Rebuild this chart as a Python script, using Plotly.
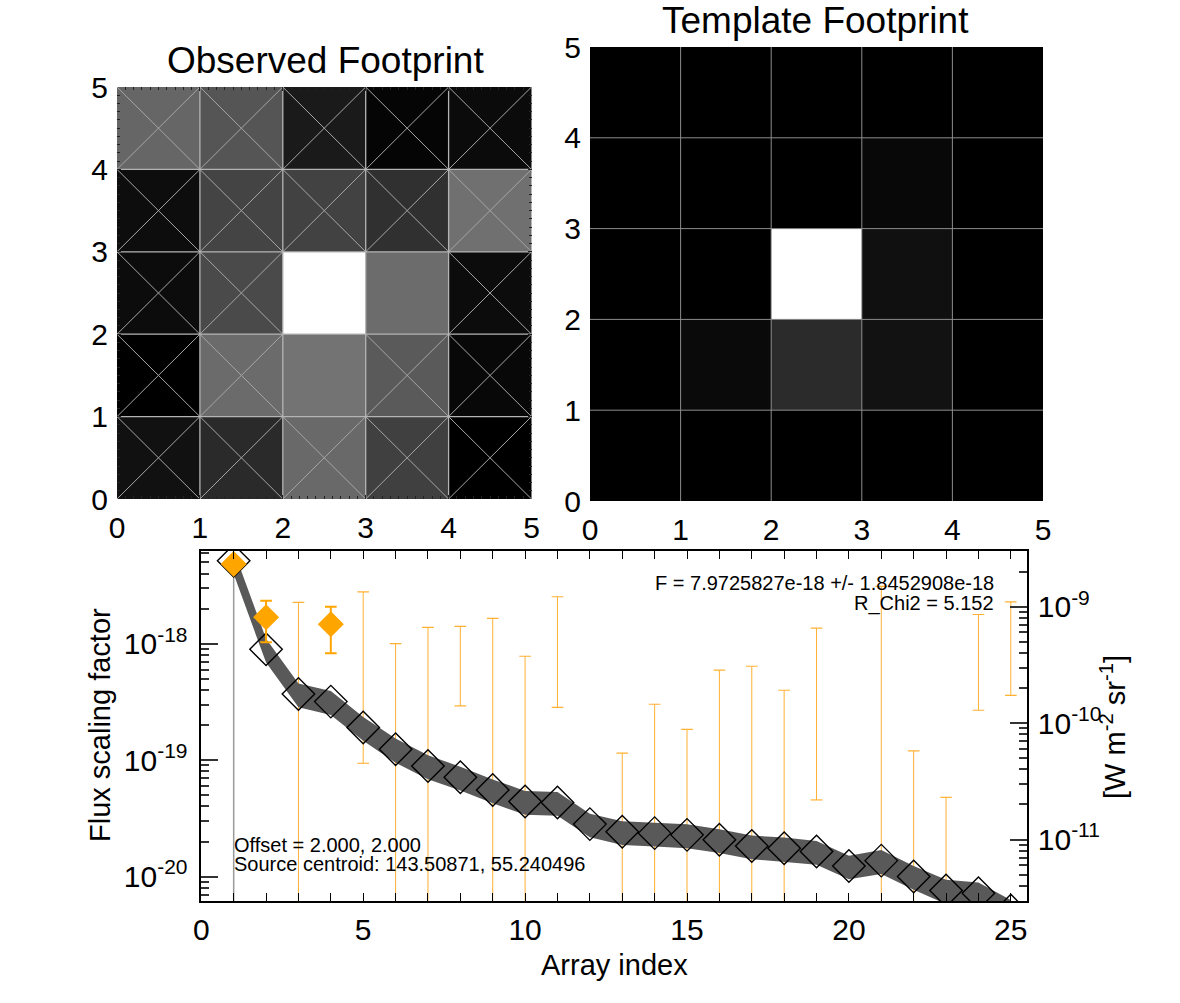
import plotly.graph_objects as go

# ---------------- data ----------------
# Observed footprint, grey levels (0-255); rows are y = 0..4 (bottom to top), columns x = 0..4
observed_rows = [
    [17, 42, 105, 64, 0],
    [0, 107, 115, 90, 8],
    [12, 74, 255, 108, 12],
    [13, 68, 66, 48, 112],
    [102, 85, 26, 5, 11],
]
# Cells of the observed footprint that are NOT crossed out (column, row)
used_cells = [(2, 2), (3, 2), (2, 1)]

# Template footprint, grey levels
template_rows = [
    [0, 0, 0, 0, 0],
    [0, 10, 43, 18, 0],
    [0, 0, 255, 16, 0],
    [0, 0, 0, 8, 0],
    [0, 0, 0, 0, 0],
]

array_index = list(range(1, 26))
model_flux = [5.15e-18, 8.95e-19, 3.70e-19, 3.18e-19, 1.91e-19, 1.24e-19, 8.9e-20, 7.13e-20,
              5.55e-20, 4.41e-20, 4.32e-20, 2.82e-20, 2.43e-20, 2.36e-20, 2.28e-20, 2.07e-20,
              1.83e-20, 1.75e-20, 1.64e-20, 1.23e-20, 1.37e-20, 1.0e-20, 7.6e-21, 7.2e-21, 5.1e-21]
band_high = [6.34e-18, 1.10e-18, 4.56e-19, 3.92e-19, 2.35e-19, 1.53e-19, 1.10e-19, 8.78e-20,
             6.83e-20, 5.43e-20, 5.32e-20, 3.47e-20, 2.99e-20, 2.91e-20, 2.81e-20, 2.55e-20,
             2.25e-20, 2.16e-20, 2.02e-20, 1.51e-20, 1.69e-20, 1.23e-20, 9.4e-21, 8.9e-21, 6.3e-21]
band_low = [3.96e-18, 6.88e-19, 2.84e-19, 2.44e-19, 1.47e-19, 9.5e-20, 6.84e-20, 5.48e-20,
            4.27e-20, 3.39e-20, 3.32e-20, 2.17e-20, 1.87e-20, 1.81e-20, 1.75e-20, 1.59e-20,
            1.41e-20, 1.34e-20, 1.26e-20, 9.5e-21, 1.05e-20, 7.7e-21, 5.8e-21, 5.5e-21, 3.9e-21]

# Measured (used) pixels
meas_index = [1, 2, 4]
meas_flux = [4.83e-18, 1.69e-18, 1.47e-18]
meas_err_high = [None, 2.34e-18, 2.08e-18]
meas_err_low = [None, 1.03e-18, 8.28e-19]

# Error bars of the other pixels (None low = lower bound <= 0, off scale)
err_index = [3, 5, 6, 7, 8, 9, 10, 11, 13, 14, 15, 16, 17, 18, 19, 21, 22, 23, 24, 25]
err_high = [2.26e-18, 2.79e-18, 1.0e-18, 1.38e-18, 1.41e-18, 1.65e-18, 7.8e-19, 2.53e-18,
            1.15e-19, 3.02e-19, 1.84e-19, 5.92e-19, 6.4e-19, 3.98e-19, 1.36e-18, 3.1e-18,
            1.2e-19, 4.79e-20, 1.78e-18, 2.29e-18]
err_low = [None, 9.4e-20, None, None, 2.92e-19, None, None, 2.84e-19,
           None, None, None, None, None, None, 4.55e-20, None,
           None, None, 2.68e-19, 3.6e-19]

x_ticks = [0, 5, 10, 15, 20, 25]
foot_ticks = [0, 1, 2, 3, 4, 5]
left_tickvals = [1e-20, 1e-19, 1e-18]
left_ticktext = ["10<sup>-20</sup>", "10<sup>-19</sup>", "10<sup>-18</sup>"]
right_tickvals = [1e-11, 1e-10, 1e-9]
right_ticktext = ["10<sup>-11</sup>", "10<sup>-10</sup>", "10<sup>-9</sup>"]

F_text = "F = 7.9725827e-18 +/- 1.8452908e-18"
chi_text = "R_Chi2 = 5.152"
offset_text = "Offset = 2.000, 2.000"
centroid_text = "Source centroid: 143.50871, 55.240496"

# ---------------- figure ----------------
FONT = "Liberation Sans, Arial, Helvetica, sans-serif"
W, H = 1180, 1003
FLOOR = 1e-23
gray_scale = [[0, "rgb(0,0,0)"], [1, "rgb(255,255,255)"]]
centers = [i + 0.5 for i in range(5)]

fig = go.Figure()

fig.add_trace(go.Heatmap(z=observed_rows, x=centers, y=centers, colorscale=gray_scale,
                         zmin=0, zmax=255, showscale=False, xaxis="x", yaxis="y",
                         hoverinfo="skip"))
fig.add_trace(go.Heatmap(z=template_rows, x=centers, y=centers, colorscale=gray_scale,
                         zmin=0, zmax=255, showscale=False, xaxis="x2", yaxis="y2",
                         hoverinfo="skip"))


def grid_xy(n):
    gx, gy = [], []
    for k in range(1, n):
        gx += [k, k, None]
        gy += [0, n, None]
        gx += [0, n, None]
        gy += [k, k, None]
    return gx, gy


# crosses on unused observed cells
cx, cy = [], []
for r in range(5):
    for c in range(5):
        if (c, r) in used_cells:
            continue
        cx += [c, c + 1, None, c, c + 1, None]
        cy += [r, r + 1, None, r + 1, r, None]
fig.add_trace(go.Scatter(x=cx, y=cy, mode="lines", line=dict(color="#a6a6a6", width=1),
                         xaxis="x", yaxis="y", hoverinfo="skip", showlegend=False))
gx, gy = grid_xy(5)
fig.add_trace(go.Scatter(x=gx, y=gy, mode="lines", line=dict(color="#b4b4b4", width=1.3),
                         xaxis="x", yaxis="y", hoverinfo="skip", showlegend=False))
fig.add_trace(go.Scatter(x=gx, y=gy, mode="lines", line=dict(color="#8c8c8c", width=1),
                         xaxis="x2", yaxis="y2", hoverinfo="skip", showlegend=False))

# ---- bottom panel ----
CAP = 0.18
ex, ey, capx, capy = [], [], [], []
for i, hi, lo in zip(err_index, err_high, err_low):
    ex += [i, i, None]
    ey += [hi, lo if lo is not None else FLOOR, None]
    capx += [i - CAP, i + CAP, None]
    capy += [hi, hi, None]
    if lo is not None:
        capx += [i - CAP, i + CAP, None]
        capy += [lo, lo, None]
fig.add_trace(go.Scatter(x=ex, y=ey, mode="lines", line=dict(color="#ffb133", width=1),
                         xaxis="x3", yaxis="y3", hoverinfo="skip", showlegend=False))
fig.add_trace(go.Scatter(x=capx, y=capy, mode="lines", line=dict(color="#ffb133", width=1.2),
                         xaxis="x3", yaxis="y3", hoverinfo="skip", showlegend=False))

# band
fig.add_trace(go.Scatter(x=array_index + array_index[::-1], y=band_high + band_low[::-1],
                         mode="lines", fill="toself", fillcolor="#595959",
                         line=dict(width=0, color="#595959"),
                         xaxis="x3", yaxis="y3", hoverinfo="skip", showlegend=False))

# gray line at first pixel
fig.add_trace(go.Scatter(x=[array_index[0], array_index[0]], y=[model_flux[0], FLOOR],
                         mode="lines", line=dict(color="#9a9a9a", width=1.5),
                         xaxis="x3", yaxis="y3", hoverinfo="skip", showlegend=False))

# model diamonds
fig.add_trace(go.Scatter(x=array_index, y=model_flux, mode="markers",
                         marker=dict(symbol="diamond-open", size=25, color="black",
                                     line=dict(width=1.4, color="black")),
                         xaxis="x3", yaxis="y3", hoverinfo="skip", showlegend=False))

# measured error bars
mx, my, mcx, mcy = [], [], [], []
for i, hi, lo in zip(meas_index, meas_err_high, meas_err_low):
    if hi is None:
        continue
    mx += [i, i, None]
    my += [hi, lo, None]
    mcx += [i - CAP, i + CAP, None, i - CAP, i + CAP, None]
    mcy += [hi, hi, None, lo, lo, None]
fig.add_trace(go.Scatter(x=mx, y=my, mode="lines", line=dict(color="#ffa500", width=2),
                         xaxis="x3", yaxis="y3", hoverinfo="skip", showlegend=False))
fig.add_trace(go.Scatter(x=mcx, y=mcy, mode="lines", line=dict(color="#ffa500", width=2),
                         xaxis="x3", yaxis="y3", hoverinfo="skip", showlegend=False))
fig.add_trace(go.Scatter(x=meas_index, y=meas_flux, mode="markers",
                         marker=dict(symbol="diamond", size=20, color="#ffa500",
                                     line=dict(width=0)),
                         xaxis="x3", yaxis="y3", hoverinfo="skip", showlegend=False))

# invisible trace for right axis
fig.add_trace(go.Scatter(x=[array_index[0]], y=[1e-10], mode="markers",
                         marker=dict(opacity=0), xaxis="x3", yaxis="y4",
                         hoverinfo="skip", showlegend=False))

tickfont = dict(family=FONT, size=30, color="black")


def px_x(p):
    return p / W


def px_y(p):
    return 1 - p / H


foot_common = dict(range=[0, 5], tickvals=foot_ticks, showgrid=False, zeroline=False,
                   showline=False, tickfont=tickfont, fixedrange=True, automargin=False)

fig.update_layout(
    width=W, height=H, autosize=False,
    margin=dict(l=0, r=0, t=0, b=0, autoexpand=False),
    paper_bgcolor="white", plot_bgcolor="white",
    showlegend=False,
    font=dict(family=FONT, color="black"),
    xaxis=dict(domain=[px_x(117), px_x(531.5)], anchor="y",
               ticks="inside", ticklen=4, tickcolor="#222", mirror="ticks",
               ticklabelstandoff=8,
               minor=dict(dtick=0.1, ticks="inside", ticklen=3, tickcolor="#222"),
               **foot_common),
    yaxis=dict(domain=[px_y(499), px_y(87)], anchor="x",
               ticks="inside", ticklen=4, tickcolor="#222", mirror="ticks",
               ticklabelstandoff=8,
               minor=dict(dtick=0.1, ticks="inside", ticklen=3, tickcolor="#222"),
               **foot_common),
    xaxis2=dict(domain=[px_x(590), px_x(1043)], anchor="y2", ticks="",
                ticklabelstandoff=8, **foot_common),
    yaxis2=dict(domain=[px_y(501), px_y(47)], anchor="x2", ticks="",
                ticklabelstandoff=8, **foot_common),
    xaxis3=dict(domain=[px_x(201.3), px_x(1027)], anchor="y3", range=[0, 25.5],
                tickvals=x_ticks, ticks="inside", ticklen=8, tickcolor="black",
                showline=True, linecolor="black", linewidth=1.5, mirror="allticks",
                minor=dict(dtick=1, ticks="inside", ticklen=4, tickcolor="black"),
                ticklabelstandoff=1, automargin=False,
                showgrid=False, zeroline=False, tickfont=tickfont),
    yaxis3=dict(domain=[px_y(901), px_y(551)], anchor="x3", type="log",
                range=[-20.21, -17.204], tickvals=left_tickvals, ticktext=left_ticktext,
                ticks="inside", ticklen=17, tickcolor="#333", tickwidth=1.5,
                showline=True, linecolor="black", linewidth=1.5,
                minor=dict(dtick="D1", ticks="inside", ticklen=8, tickcolor="#333"),
                ticklabelstandoff=6, automargin=False,
                showgrid=False, zeroline=False, tickfont=tickfont),
    yaxis4=dict(overlaying="y3", anchor="x3", side="right", type="log",
                range=[-11.528, -8.522], tickvals=right_tickvals, ticktext=right_ticktext,
                ticks="inside", ticklen=17, tickcolor="#333", tickwidth=1.5,
                showline=True, linecolor="black", linewidth=1.5,
                minor=dict(dtick="D1", ticks="inside", ticklen=8, tickcolor="#333"),
                ticklabelstandoff=3, automargin=False,
                showgrid=False, zeroline=False, tickfont=tickfont),
)

ann = []
ann.append(dict(text="Observed Footprint", x=px_x(325), y=px_y(60), xref="paper", yref="paper",
                showarrow=False, font=dict(family=FONT, size=37), xanchor="center", yanchor="middle"))
ann.append(dict(text="Template Footprint", x=px_x(815), y=px_y(20), xref="paper", yref="paper",
                showarrow=False, font=dict(family=FONT, size=37), xanchor="center", yanchor="middle"))
ann.append(dict(text="Array index", x=px_x(614), y=px_y(965), xref="paper", yref="paper",
                showarrow=False, font=dict(family=FONT, size=29), xanchor="center", yanchor="middle"))
ann.append(dict(text="Flux scaling factor", x=px_x(100), y=px_y(725), xref="paper", yref="paper",
                showarrow=False, textangle=-90, font=dict(family=FONT, size=29),
                xanchor="center", yanchor="middle"))
ann.append(dict(text="[W m<sup>-2</sup> sr<sup>-1</sup>]", x=px_x(1113), y=px_y(727),
                xref="paper", yref="paper", showarrow=False, textangle=-90,
                font=dict(family=FONT, size=29), xanchor="center", yanchor="middle"))
ann.append(dict(text=F_text, x=px_x(996), y=px_y(583), xref="paper", yref="paper",
                showarrow=False, font=dict(family=FONT, size=20), xanchor="right", yanchor="middle"))
ann.append(dict(text=chi_text, x=px_x(996), y=px_y(603), xref="paper", yref="paper",
                showarrow=False, font=dict(family=FONT, size=20), xanchor="right", yanchor="middle"))
ann.append(dict(text=offset_text, x=px_x(232), y=px_y(845), xref="paper", yref="paper",
                showarrow=False, font=dict(family=FONT, size=20), xanchor="left", yanchor="middle"))
ann.append(dict(text=centroid_text, x=px_x(232), y=px_y(864), xref="paper", yref="paper",
                showarrow=False, font=dict(family=FONT, size=20), xanchor="left", yanchor="middle"))
fig.update_layout(annotations=ann)

fig.write_html("out.html")
